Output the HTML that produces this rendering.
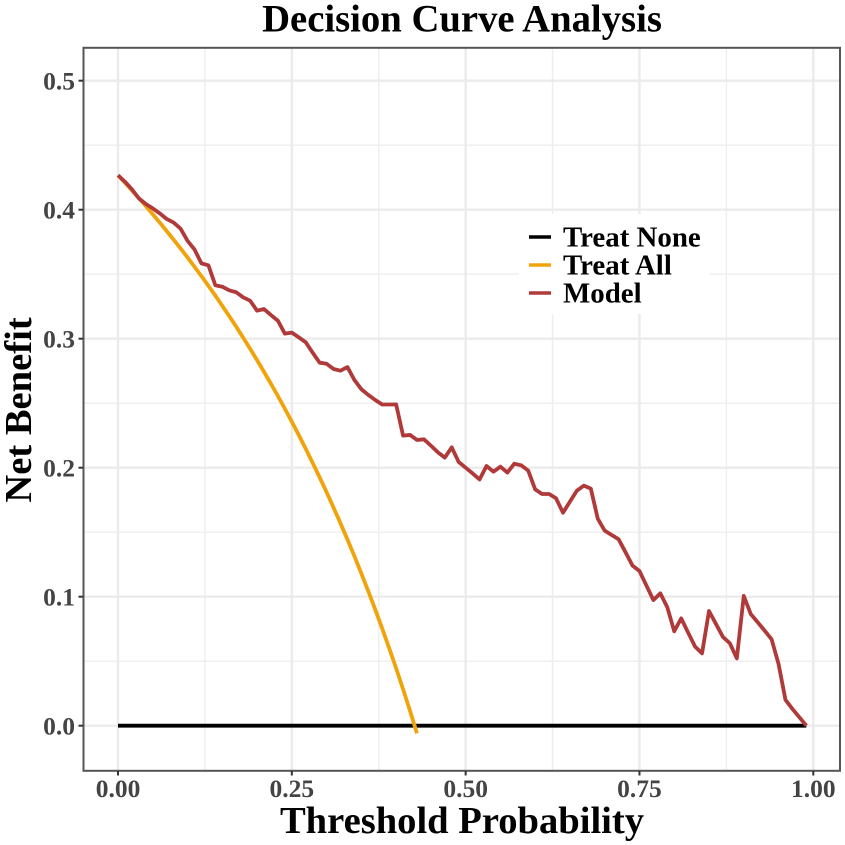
<!DOCTYPE html>
<html>
<head>
<meta charset="utf-8">
<title>Decision Curve Analysis</title>
<style>
html,body{margin:0;padding:0;background:#fff;width:845px;height:845px;overflow:hidden}
svg{display:block;font-family:"Liberation Serif",serif;font-weight:bold;filter:blur(0.35px)}
</style>
</head>
<body>
<svg id="chart" xmlns="http://www.w3.org/2000/svg" width="845" height="845" viewBox="0 0 845 845">
  <rect x="0" y="0" width="845" height="845" fill="#fff"/>
  <g id="grid"></g>
  <g id="series"></g>
  <rect x="83.5" y="47.8" width="756.5" height="723" fill="none" stroke="#555" stroke-width="2"/>
  <g id="axes"></g>
  <text x="462" y="31.5" text-anchor="middle" font-size="38.7" fill="#000">Decision Curve Analysis</text>
  <text x="462" y="833" text-anchor="middle" font-size="38.6" fill="#000">Threshold Probability</text>
  <text transform="translate(31,410) rotate(-90)" text-anchor="middle" font-size="38.6" fill="#000">Net Benefit</text>
  <g>
    <rect x="519" y="214" width="190" height="100" fill="#fff"/>
    <line x1="529" x2="551" y1="237" y2="237" stroke="#000" stroke-width="3.6"/>
    <text x="563" y="246.5" font-size="28.9" fill="#000">Treat None</text>
    <line x1="529" x2="551" y1="265" y2="265" stroke="#f0a30a" stroke-width="3.6"/>
    <text x="563" y="274.5" font-size="28.9" fill="#000">Treat All</text>
    <line x1="529" x2="551" y1="293" y2="293" stroke="#b03a3a" stroke-width="3.6"/>
    <text x="563" y="302.5" font-size="28.9" fill="#000">Model</text>
  </g>
</svg>
<script>
const xTickValues = [0, 0.25, 0.5, 0.75, 1];
const xTickLabels = ["0.00", "0.25", "0.50", "0.75", "1.00"];
const xMinorValues = [0.125, 0.375, 0.625, 0.875];
const yTickValues = [0, 0.1, 0.2, 0.3, 0.4, 0.5];
const yTickLabels = ["0.0", "0.1", "0.2", "0.3", "0.4", "0.5"];
const yMinorValues = [0.05, 0.15, 0.25, 0.35, 0.45];
const thresholdStep = 0.01;
const treatNoneThresholds = [0, 0.99];
const treatNoneValues = [0, 0];
const treatAllValues = [
  0.4267, 0.4209, 0.4150, 0.4090, 0.4028, 0.3965, 0.3901, 0.3835, 0.3768, 0.3700,
  0.3630, 0.3558, 0.3485, 0.3410, 0.3334, 0.3255, 0.3175, 0.3093, 0.3008, 0.2922,
  0.2834, 0.2743, 0.2650, 0.2555, 0.2457, 0.2356, 0.2253, 0.2147, 0.2037, 0.1925,
  0.1810, 0.1691, 0.1569, 0.1443, 0.1314, 0.1180, 0.1042, 0.0900, 0.0753, 0.0601,
  0.0445, 0.0283, 0.0115, -0.0059
];
const modelValues = [
  0.4267, 0.4217, 0.4158, 0.4088, 0.4044, 0.4010, 0.3972, 0.3928, 0.3900, 0.3853,
  0.3759, 0.3692, 0.3584, 0.3569, 0.3414, 0.3403, 0.3375, 0.3360, 0.3321, 0.3295,
  0.3217, 0.3230, 0.3183, 0.3139, 0.3039, 0.3047, 0.3011, 0.2972, 0.2892, 0.2814,
  0.2806, 0.2765, 0.2752, 0.2780, 0.2680, 0.2608, 0.2564, 0.2525, 0.2490, 0.2490,
  0.2491, 0.2249, 0.2254, 0.2215, 0.2220, 0.2171, 0.2120, 0.2078, 0.2158, 0.2044,
  0.2000, 0.1956, 0.1909, 0.2013, 0.1969, 0.2008, 0.1962, 0.2031, 0.2018, 0.1977,
  0.1832, 0.1796, 0.1796, 0.1763, 0.1651, 0.1737, 0.1822, 0.1861, 0.1838, 0.1605,
  0.1512, 0.1478, 0.1445, 0.1344, 0.1241, 0.1199, 0.1086, 0.0974, 0.1026, 0.0918,
  0.0732, 0.0832, 0.0721, 0.0613, 0.0561, 0.0889, 0.0789, 0.0688, 0.0639, 0.0522,
  0.1006, 0.0866, 0.0802, 0.0737, 0.0670, 0.0479, 0.0200, 0.0130, 0.0065, 0.0000
];

const NS = "http://www.w3.org/2000/svg";
const xScale = function (t) { return 118 + 695.3 * t; };
const yScale = function (v) { return 725.7 - 1290 * v; };
const PANEL = { left: 84.5, right: 839, top: 48.8, bottom: 769.8 };

function make(tag, parent, attrs, text) {
  const el = document.createElementNS(NS, tag);
  Object.keys(attrs).forEach(function (k) { el.setAttribute(k, attrs[k]); });
  if (text !== undefined) el.textContent = text;
  parent.appendChild(el);
  return el;
}

const grid = document.getElementById("grid");
const axes = document.getElementById("axes");
const series = document.getElementById("series");

yMinorValues.forEach(function (v) {
  const el = make("line", grid, { x1: PANEL.left, x2: PANEL.right, y1: yScale(v), y2: yScale(v), stroke: "#eeeeee", "stroke-width": 1.4 });
  
  
});
xMinorValues.forEach(function (v) {
  const el = make("line", grid, { x1: xScale(v), x2: xScale(v), y1: PANEL.top, y2: PANEL.bottom, stroke: "#eeeeee", "stroke-width": 1.4 });
  
  
});
yTickValues.forEach(function (v) {
  const el = make("line", grid, { x1: PANEL.left, x2: PANEL.right, y1: yScale(v), y2: yScale(v), stroke: "#ebebeb", "stroke-width": 2.4 });
  
  
});
xTickValues.forEach(function (v) {
  const el = make("line", grid, { x1: xScale(v), x2: xScale(v), y1: PANEL.top, y2: PANEL.bottom, stroke: "#ebebeb", "stroke-width": 2.4 });
  
  
});

xTickValues.forEach(function (v, i) {
  const tick = make("line", axes, { x1: xScale(v), x2: xScale(v), y1: 771, y2: 775.5, stroke: "#333", "stroke-width": 2 });
  
  
  const label = make("text", axes, { x: xScale(v), y: 797, "text-anchor": "middle", "font-size": 25.5, fill: "#444" }, xTickLabels[i]);
  
  
});
yTickValues.forEach(function (v, i) {
  const tick = make("line", axes, { x1: 78.5, x2: 83, y1: yScale(v), y2: yScale(v), stroke: "#333", "stroke-width": 2 });
  
  
  const label = make("text", axes, { x: 75, y: yScale(v) + 9, "text-anchor": "end", "font-size": 25.5, fill: "#444" }, yTickLabels[i]);
  
  
});

function pointString(values, xAt) {
  return values.map(function (v, i) {
    return xScale(xAt(i)).toFixed(2) + "," + yScale(v).toFixed(2);
  }).join(" ");
}
function byStep(i) { return i * thresholdStep; }

const noneLine = make("polyline", series, { points: pointString(treatNoneValues, function (i) { return treatNoneThresholds[i]; }), fill: "none", stroke: "#000", "stroke-width": 3.8 });


const allLine = make("polyline", series, { points: pointString(treatAllValues, byStep), fill: "none", stroke: "#f0a30a", "stroke-width": 3.8, "stroke-linejoin": "round" });


const modelLine = make("polyline", series, { points: pointString(modelValues, byStep), fill: "none", stroke: "#b03a3a", "stroke-width": 3.8, "stroke-linejoin": "round" });


</script>
</body>
</html>
